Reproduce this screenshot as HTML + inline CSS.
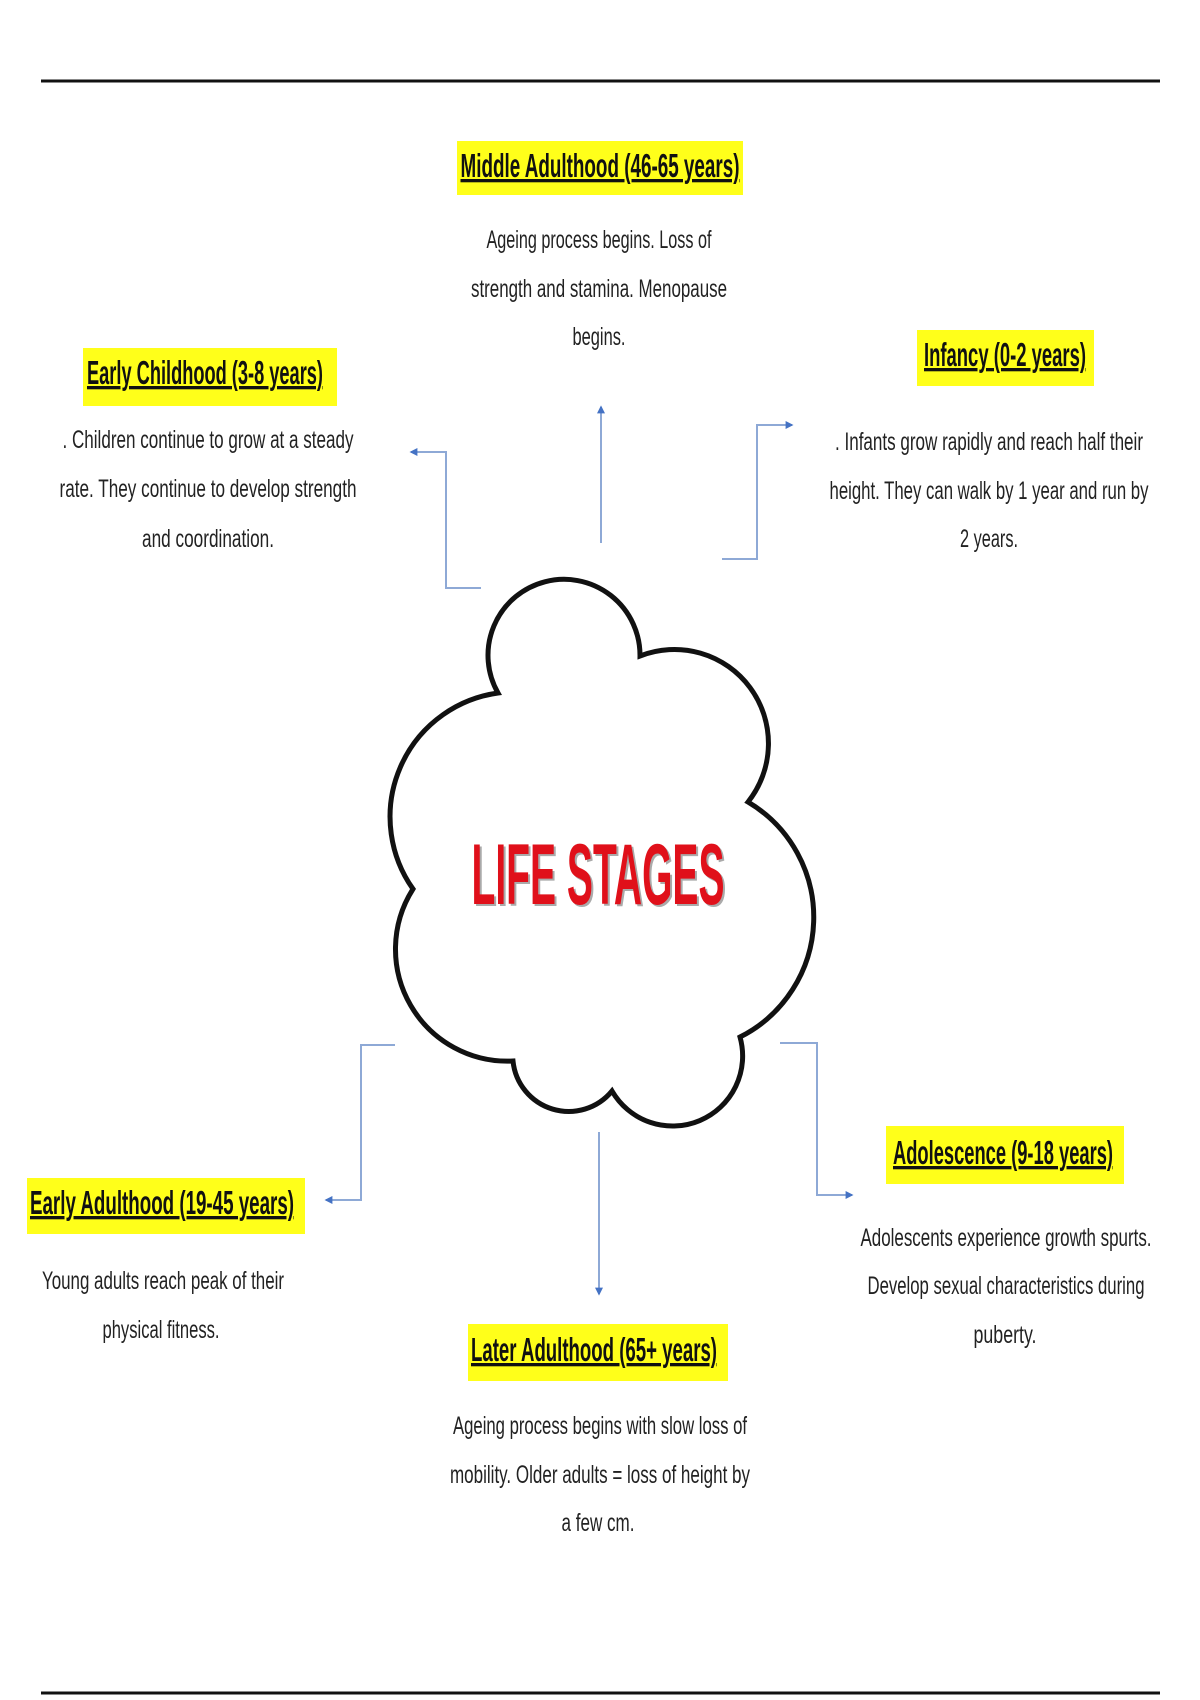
<!DOCTYPE html>
<html><head><meta charset="utf-8"><style>
html,body{margin:0;padding:0;background:#fff;}
svg{display:block;}
.h{font-family:"Liberation Sans",sans-serif;font-weight:bold;font-size:33px;fill:#111;text-decoration:underline;}
.b{font-family:"Liberation Sans",sans-serif;font-size:25px;fill:#222;}
</style></head><body>
<svg width="1200" height="1700" viewBox="0 0 1200 1700" xmlns="http://www.w3.org/2000/svg">
<defs>
<marker id="a" viewBox="0 0 10 10" refX="8" refY="5" markerWidth="4" markerHeight="4" orient="auto"><path d="M0,0 L10,5 L0,10 z" fill="#4472c4"/></marker>
</defs>
<line x1="41" y1="81" x2="1160" y2="81" stroke="#111" stroke-width="3"/>
<line x1="41" y1="1693" x2="1160" y2="1693" stroke="#111" stroke-width="3"/>

<g fill="none" stroke="#8ea9d6" stroke-width="2">
<polyline points="601,543 601,407" marker-end="url(#a)"/>
<polyline points="481,588 446,588 446,452 411,452" marker-end="url(#a)"/>
<polyline points="722,559 757,559 757,425 792,425" marker-end="url(#a)"/>
<polyline points="395,1045 361,1045 361,1200 326,1200" marker-end="url(#a)"/>
<polyline points="599,1132 599,1294" marker-end="url(#a)"/>
<polyline points="780,1043 817,1043 817,1195 852,1195" marker-end="url(#a)"/>
</g>

<path d="M498,693 A76,76 0 1 1 640,656 A94,94 0 0 1 748,802 A134,134 0 0 1 740,1037 A70,70 0 0 1 612,1091 A56,56 0 0 1 513,1061 A112,112 0 0 1 413,889 A125,125 0 0 1 498,693 Z" fill="#fff" stroke="#111" stroke-width="5" stroke-linejoin="miter"/>
<text x="600" y="906" text-anchor="middle" textLength="253" lengthAdjust="spacingAndGlyphs" font-family="Liberation Sans, sans-serif" font-weight="bold" font-size="86" fill="#aaa">LIFE STAGES</text>
<text x="598" y="904" text-anchor="middle" textLength="253" lengthAdjust="spacingAndGlyphs" font-family="Liberation Sans, sans-serif" font-weight="bold" font-size="86" fill="#e0101a">LIFE STAGES</text>

<rect x="457" y="141" width="286" height="54" fill="#ffff1a"/>
<text class="h" x="600" y="177" text-anchor="middle" textLength="279" lengthAdjust="spacingAndGlyphs">Middle Adulthood (46-65 years)</text>
<text class="b" x="599" y="248" text-anchor="middle" textLength="225" lengthAdjust="spacingAndGlyphs">Ageing process begins. Loss of</text>
<text class="b" x="599" y="297" text-anchor="middle" textLength="256" lengthAdjust="spacingAndGlyphs">strength and stamina. Menopause</text>
<text class="b" x="599" y="345" text-anchor="middle" textLength="53" lengthAdjust="spacingAndGlyphs">begins.</text>

<rect x="917" y="330" width="177" height="56" fill="#ffff1a"/>
<text class="h" x="1005" y="366" text-anchor="middle" textLength="162" lengthAdjust="spacingAndGlyphs">Infancy (0-2 years)</text>
<text class="b" x="989" y="450" text-anchor="middle" textLength="308" lengthAdjust="spacingAndGlyphs">. Infants grow rapidly and reach half their</text>
<text class="b" x="989" y="499" text-anchor="middle" textLength="319" lengthAdjust="spacingAndGlyphs">height. They can walk by 1 year and run by</text>
<text class="b" x="989" y="547" text-anchor="middle" textLength="58" lengthAdjust="spacingAndGlyphs">2 years.</text>

<rect x="83" y="348" width="254" height="58" fill="#ffff1a"/>
<text class="h" x="205" y="384" text-anchor="middle" textLength="236" lengthAdjust="spacingAndGlyphs">Early Childhood (3-8 years)</text>
<text class="b" x="208" y="448" text-anchor="middle" textLength="291" lengthAdjust="spacingAndGlyphs">. Children continue to grow at a steady</text>
<text class="b" x="208" y="497" text-anchor="middle" textLength="297" lengthAdjust="spacingAndGlyphs">rate. They continue to develop strength</text>
<text class="b" x="208" y="547" text-anchor="middle" textLength="132" lengthAdjust="spacingAndGlyphs">and coordination.</text>

<rect x="27" y="1178" width="278" height="56" fill="#ffff1a"/>
<text class="h" x="162" y="1214" text-anchor="middle" textLength="264" lengthAdjust="spacingAndGlyphs">Early Adulthood (19-45 years)</text>
<text class="b" x="163" y="1289" text-anchor="middle" textLength="242" lengthAdjust="spacingAndGlyphs">Young adults reach peak of their</text>
<text class="b" x="161" y="1338" text-anchor="middle" textLength="117" lengthAdjust="spacingAndGlyphs">physical fitness.</text>

<rect x="468" y="1324" width="260" height="57" fill="#ffff1a"/>
<text class="h" x="594" y="1361" text-anchor="middle" textLength="246" lengthAdjust="spacingAndGlyphs">Later Adulthood (65+ years)</text>
<text class="b" x="600" y="1434" text-anchor="middle" textLength="294" lengthAdjust="spacingAndGlyphs">Ageing process begins with slow loss of</text>
<text class="b" x="600" y="1483" text-anchor="middle" textLength="300" lengthAdjust="spacingAndGlyphs">mobility. Older adults = loss of height by</text>
<text class="b" x="598" y="1531" text-anchor="middle" textLength="73" lengthAdjust="spacingAndGlyphs">a few cm.</text>

<rect x="886" y="1126" width="238" height="58" fill="#ffff1a"/>
<text class="h" x="1003" y="1164" text-anchor="middle" textLength="220" lengthAdjust="spacingAndGlyphs">Adolescence (9-18 years)</text>
<text class="b" x="1006" y="1246" text-anchor="middle" textLength="291" lengthAdjust="spacingAndGlyphs">Adolescents experience growth spurts.</text>
<text class="b" x="1006" y="1294" text-anchor="middle" textLength="277" lengthAdjust="spacingAndGlyphs">Develop sexual characteristics during</text>
<text class="b" x="1005" y="1343" text-anchor="middle" textLength="63" lengthAdjust="spacingAndGlyphs">puberty.</text>
</svg>
</body></html>
